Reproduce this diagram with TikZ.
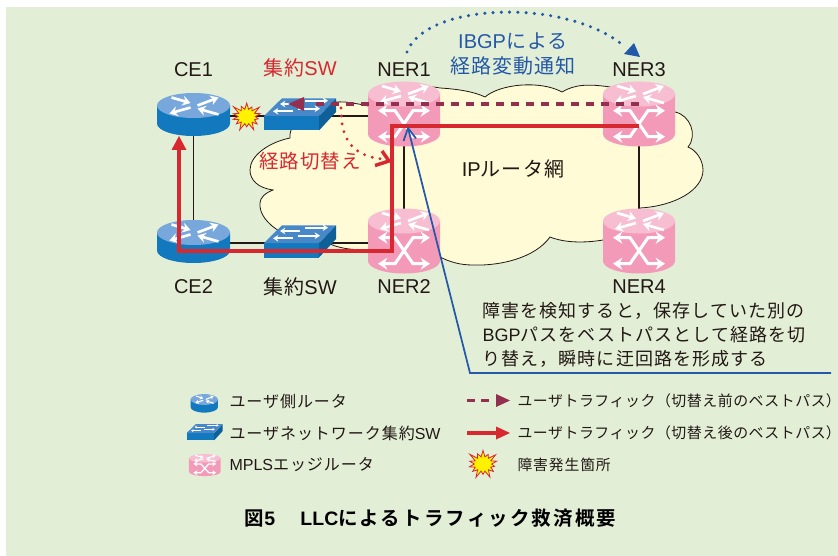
\documentclass[tikz,border=0pt]{standalone}
\usepackage{fontspec}
\setmainfont{Liberation Sans}
\newfontfamily\jp[LetterSpace=6]{Noto Sans CJK JP}
\newfontfamily\jpl[LetterSpace=3.5]{Noto Sans CJK JP}
\newfontfamily\jph[RawFeature=+halt]{Noto Sans CJK JP}
\newfontfamily\jpb[LetterSpace=11,BoldFont={Noto Sans CJK JP Bold}]{Noto Sans CJK JP}
\usetikzlibrary{arrows.meta,shapes.symbols}
\definecolor{panelgreen}{RGB}{226,239,214}
\definecolor{cloudyellow}{RGB}{255,251,215}
\definecolor{pinkbody}{RGB}{244,154,185}
\definecolor{pinktop}{RGB}{247,190,210}
\definecolor{bluebody}{RGB}{18,121,190}
\definecolor{bluetop}{RGB}{120,167,220}
\definecolor{swtop}{RGB}{70,136,200}
\definecolor{swside}{RGB}{15,96,153}
\definecolor{routered}{RGB}{215,40,47}
\definecolor{noteblue}{RGB}{36,88,168}
\definecolor{maroon}{RGB}{147,48,79}
\definecolor{inkblack}{RGB}{35,24,21}
\def\arrowk{1}
% four arrows on a router's top face
\newcommand{\topcross}[1]{
  \draw [wharrow,shift={(0,#1)}] (-22,-8) -- (-3,-2.5) ;
  \draw [wharrow,shift={(0,#1)}] (4,0) -- (25,-8) ;
  \draw [wharrow,shift={(0,#1)}] (-3,2) -- (-24,8) ;
  \draw [wharrow,shift={(0,#1)}] (25,9) -- (4,3) ;
}
\tikzset{every picture/.style={line width=0.75pt}}
\tikzset{
  every pic/.style={yscale=-1},
  lbl/.style={inner sep=0.75pt,text=inkblack,font=\fontsize{15pt}{18pt}\selectfont},
  lgd/.style={inner sep=0.75pt,anchor=west,text=inkblack,font=\fontsize{12pt}{14pt}\selectfont},
  link/.style={draw=inkblack,line width=1.3pt},
  newpath/.style={draw=routered,line width=3pt,line join=miter},
  oldpath/.style={draw=maroon,line width=2.6pt,dash pattern=on 6pt off 5.25pt},
  burst/.style={starburst,starburst points=14,starburst point height=6.5pt,draw=routered,fill=yellow,line width=0.6pt,minimum width=26pt,minimum height=24pt,inner sep=0pt},
  wharrow/.style={draw=white,line width=\arrowk*2pt,-{Stealth[length=6pt,width=7.5pt,scale=\arrowk]}},
  xarrow/.style={draw=white,line width=\arrowk*2.3pt,{Stealth[length=7pt,width=9pt,scale=\arrowk]}-{Stealth[length=7pt,width=9pt,scale=\arrowk]}},
  swarrow/.style={draw=white,line width=\arrowk*1.3pt,-{Stealth[length=4pt,width=5pt,scale=\arrowk]}},
  cerouter/.pic={
    \path [fill=bluebody] (-36.5,-10.5) -- (-36.5,7.5) .. controls (-36.5,14.5) and (-20,20) .. (0,20) .. controls (20,20) and (36.5,14.5) .. (36.5,7.5) -- (36.5,-10.5) -- cycle ;
    \path [fill=bluetop] (0,-10.5) ellipse (36.5 and 12.5) ;
    \topcross{-10.5}
  },
  nerrouter/.pic={
    \path [fill=pinkbody] (-36,-22) -- (-36,18) .. controls (-36,25) and (-20,30.5) .. (0,30.5) .. controls (20,30.5) and (36,25) .. (36,18) -- (36,-22) -- cycle ;
    \path [fill=pinktop] (0,-22) ellipse (36 and 12.5) ;
    \topcross{-22}
    \draw [xarrow] (-26,-5.3) -- (-9,-5.3) -- (9,20.7) -- (26,20.7) ;
    \draw [xarrow] (26,-5.3) -- (9,-5.3) -- (-9,20.7) -- (-26,20.7) ;
  },
  swbox/.pic={
    \path [fill=bluebody] (-36,0) -- (19,0) -- (19,14.5) -- (-36,14.5) -- cycle ;
    \path [fill=swside] (19,0) -- (36,-17.7) -- (36,-4) -- (19,14.5) -- cycle ;
    \path [fill=swtop] (-36,0) -- (-18,-17.7) -- (36,-17.7) -- (19,0) -- cycle ;
    \draw [swarrow] (0,-12) -- (-20,-12) ;
    \draw [swarrow] (5,-15.3) -- (28,-15.3) ;
    \draw [swarrow] (-7,-4.7) -- (-27,-4.7) ;
    \draw [swarrow] (-2,-7.3) -- (20,-7.3) ;
  },
}

\begin{document}
\begin{tikzpicture}[x=0.75pt,y=0.75pt,yscale=-1,xscale=1]
\useasboundingbox (0,0) rectangle (838,556);
%Panel
\path [fill=panelgreen] (6,7) rectangle (838,556);

%Cloud
\draw [fill=cloudyellow,draw=inkblack,line width=0.6pt] (290,138) .. controls (288,120) and (318,100) .. (345,102)
  .. controls (352,103) and (360,104) .. (368,106) .. controls (385,88) and (420,84) .. (440,88)
  .. controls (458,89) and (475,92) .. (485,97) .. controls (500,84) and (540,80) .. (562,92)
  .. controls (575,84) and (590,84) .. (610,87) .. controls (640,85) and (665,95) .. (675,112)
  .. controls (690,115) and (698,135) .. (688,147) .. controls (696,150) and (703,160) .. (703,170)
  .. controls (703,190) and (675,206) .. (640,208) .. controls (635,225) and (620,235) .. (603,240)
  .. controls (585,243) and (565,243) .. (550,237) .. controls (535,258) and (500,266) .. (473,265)
  .. controls (460,265) and (450,262) .. (440,257) .. controls (425,270) and (385,268) .. (368,250)
  .. controls (350,250) and (338,248) .. (328,243) .. controls (295,245) and (258,225) .. (260,203)
  .. controls (260,198) and (265,193) .. (273,190) .. controls (258,188) and (250,180) .. (250,170)
  .. controls (250,155) and (270,142) .. (290,138) -- cycle ;

%Coordinates
\coordinate (CE1) at (193.5,116);
\coordinate (CE2) at (193.5,243);
\coordinate (SW1) at (300,116);
\coordinate (SW2) at (300,243);
\coordinate (NER1) at (404,116);
\coordinate (NER2) at (404,243);
\coordinate (NER3) at (639,116);
\coordinate (NER4) at (639,243);

%Links
\draw [link] (CE1) -- (SW1) -- (NER1) ;
\draw [link] (CE1) -- (CE2) ;
\draw [link] (CE2) -- (SW2) -- (NER2) ;
\draw [link] (NER1) -- (NER2) ;
\draw [link] (NER3) -- (NER4) ;

%Devices
\pic at (CE1) {cerouter};
\pic at (CE2) {cerouter};
\pic at (SW1) {swbox};
\pic at (SW2) {swbox};
\pic at (NER1) {nerrouter};
\pic at (NER2) {nerrouter};
\pic at (NER3) {nerrouter};
\pic at (NER4) {nerrouter};

%Failure mark
\node [burst] (fail) at (246.7,116.5) {};

%Path before switching
\coordinate (oldstart) at (639,104);
\coordinate (oldend) at (288,104);
\draw [oldpath] (oldstart) -- (312,104) ;
\path [fill=maroon] (oldend) -- (304,97) -- (304,111) -- cycle ;

%Path after switching
\coordinate (newstart) at (639,125.7);
\coordinate (newend) at (179,136);
\draw [newpath] (newstart) -- (391.7,125.7) -- (391.7,251) -- (179,251) -- (179,150) ;
\path [fill=routered] (newend) -- (186.5,150) -- (171.5,150) -- cycle ;

%Switching arrow
\coordinate (swstart) at (341,108);
\coordinate (swend) at (389,161);
\draw [draw=routered,line width=2.4pt,line cap=round,dash pattern=on 0pt off 6pt] (swstart) .. controls (341,130) and (345,155) .. (382,159) ;
\draw [draw=routered,line width=2.6pt] (382,151) -- (swend) -- (375,165.5) ;

%Notice arrow
\coordinate (bgpstart) at (407,52);
\coordinate (bgpend) at (640,57);
\draw [draw=noteblue,line width=2.6pt,line cap=round,dash pattern=on 0pt off 6.2pt] (bgpstart) .. controls (425,3) and (565,-3) .. (624,46) ;
\path [fill=noteblue] (bgpend) -- (624,54) -- (634,43) -- cycle ;

%Callout line
\coordinate (calltip) at (408,128);
\coordinate (callbend) at (470,373);
\coordinate (callend) at (831,373);
\draw [draw=noteblue,line width=1.3pt] (calltip) -- (callbend) -- (callend) ;
\draw [draw=noteblue,line width=1.3pt] (403.5,141) -- (calltip) -- (416,138.5) ;

%Labels
\node [lbl] (ce1lbl) at (193.5,70) {CE1};
\node [lbl,text=routered] (sw1lbl) at (300,68) {{\jp 集約}SW};
\node [lbl] (ner1lbl) at (404,70) {NER1};
\node [lbl] (ner3lbl) at (639,69.5) {NER3};
\node [lbl] (ce2lbl) at (193.5,286.5) {CE2};
\node [lbl] (sw2lbl) at (300,286.5) {{\jp 集約}SW};
\node [lbl] (ner2lbl) at (404,287) {NER2};
\node [lbl] (ner4lbl) at (639,287) {NER4};
\node [lbl,text=noteblue,align=center,font=\fontsize{15pt}{18.75pt}\selectfont] (bgplbl) at (513,54.5) {IBGP{\jp による}\\{\jp 経路変動通知}};
\node [lbl,text=routered,font=\fontsize{14.6pt}{17pt}\selectfont] (swlbl) at (310,161) {\jp 経路切替え};
\node [lbl,font=\fontsize{15pt}{17pt}\selectfont] (iplbl) at (513,169) {IP{\jp ルータ網}};
\node [lbl,anchor=north west,align=left,font=\fontsize{13.5pt}{18pt}\selectfont] (notelbl) at (481,301) {{\jp 障害を検知すると，保存していた別の}\\BGP{\jp パスをベストパスとして経路を切}\\{\jp り替え，瞬時に迂回路を形成する}};

%Legend
\begin{scope}
\def\arrowk{0.42}
\pic [xscale=0.375,yscale=0.43] at (204.3,404) {cerouter};
\pic [scale=0.5] at (204.7,433) {swbox};
\pic [xscale=0.44,yscale=0.34] at (204.8,465.7) {nerrouter};
\end{scope}
\node [lgd] (lg1) at (228,401) {\jp ユーザ側ルータ};
\node [lgd] (lg2) at (228,433) {{\jp ユーザネットワーク集約}SW};
\node [lgd] (lg3) at (228,464.5) {MPLS{\jp エッジルータ}};
\coordinate (lg4a) at (467,400.5);
\coordinate (lg4b) at (510,400.5);
\draw [draw=maroon,line width=2.4pt,dash pattern=on 6pt off 4.5pt] (lg4a) -- (495,400.5) ;
\path [fill=maroon] (lg4b) -- (496,394) -- (496,407) -- cycle ;
\coordinate (lg5a) at (467,433);
\coordinate (lg5b) at (510,433);
\draw [draw=routered,line width=2.4pt] (lg5a) -- (496,433) ;
\path [fill=routered] (lg5b) -- (496,426.5) -- (496,439.5) -- cycle ;
\node [burst] (lg6) at (483,464) {};
\node [lgd,font=\fontsize{11.2pt}{14pt}\selectfont] (lg4) at (516,401) {\jpl ユーザトラフィック（切替え前のベストパス{\jph ）}};
\node [lgd,font=\fontsize{11.2pt}{14pt}\selectfont] (lg5) at (516,433) {\jpl ユーザトラフィック（切替え後のベストパス{\jph ）}};
\node [lgd,font=\fontsize{11.1pt}{14pt}\selectfont] (lg7) at (516,465) {\jp 障害発生箇所};

%Caption
\node [inner sep=0.75pt,text=black,font=\fontsize{14.6pt}{16pt}\bfseries\selectfont] (caption) at (430.5,518) {{\jpb\bfseries 図}5\hspace{19pt}LLC{\jpb\bfseries によるトラフィック救済概要}};
\end{tikzpicture}
\end{document}
